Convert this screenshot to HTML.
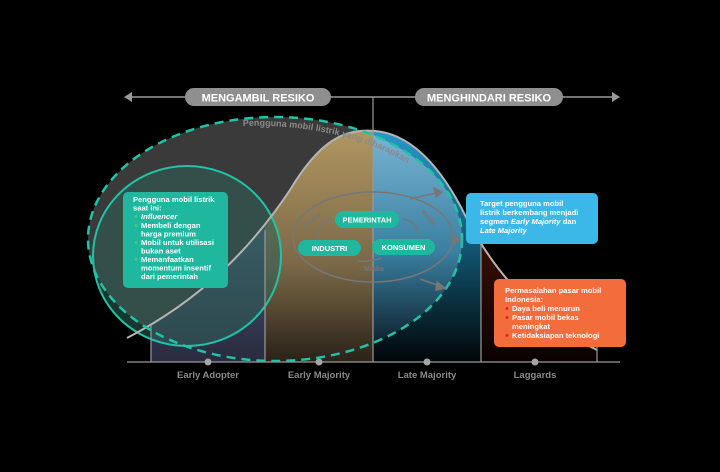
<!DOCTYPE html>
<html><head><meta charset="utf-8"><style>
html,body{margin:0;padding:0;background:#000;}
svg{display:block;font-family:"Liberation Sans",sans-serif;}
</style></head><body>
<svg width="720" height="472" viewBox="0 0 720 472" xmlns="http://www.w3.org/2000/svg">
<defs>
<linearGradient id="blue" x1="0" y1="0" x2="0" y2="1"><stop offset="0" stop-color="#7fb9d8"/><stop offset="0.55" stop-color="#3a7fa0"/><stop offset="1" stop-color="#061018"/></linearGradient>
<linearGradient id="blue2" x1="0" y1="0" x2="0" y2="1"><stop offset="0" stop-color="#2a9fcf"/><stop offset="0.5" stop-color="#135a78"/><stop offset="1" stop-color="#020608"/></linearGradient>
<linearGradient id="gold" x1="0" y1="0" x2="0" y2="1"><stop offset="0" stop-color="#b59a62"/><stop offset="0.6" stop-color="#7a6848"/><stop offset="1" stop-color="#2a2218"/></linearGradient>
<linearGradient id="ea" x1="0" y1="0" x2="0" y2="1"><stop offset="0" stop-color="#5a7e9a"/><stop offset="1" stop-color="#2a2a40"/></linearGradient>
<linearGradient id="red" x1="0" y1="0" x2="0" y2="1"><stop offset="0" stop-color="#d4461e"/><stop offset="0.5" stop-color="#3a0e02"/><stop offset="1" stop-color="#0a0200"/></linearGradient>
<clipPath id="under"><path d="M127,338 C200,300 250,250 290,190 C320,140 345,128 375,131 C410,134 440,165 465,215 C495,275 540,322 597,350 L597,362 L127,362 Z"/></clipPath>
<clipPath id="ell"><ellipse cx="275" cy="239" rx="187" ry="122"/></clipPath>
</defs>
<line x1="128" y1="97" x2="616" y2="97" stroke="#9a9a9a" stroke-width="1.5"/>
<path d="M124,97 L132,92 L132,102 Z" fill="#9a9a9a"/>
<path d="M620,97 L612,92 L612,102 Z" fill="#9a9a9a"/>
<rect x="185" y="88" width="146" height="18" rx="9" fill="#8f8f8f"/>
<text x="258" y="101.5" text-anchor="middle" fill="#fff" font-size="11" font-weight="bold">MENGAMBIL RESIKO</text>
<rect x="415" y="88" width="148" height="18" rx="9" fill="#8f8f8f"/>
<text x="489" y="101.5" text-anchor="middle" fill="#fff" font-size="11" font-weight="bold">MENGHINDARI RESIKO</text>
<ellipse cx="275" cy="239" rx="187" ry="122" fill="#3a3a3a"/>
<g clip-path="url(#under)">
<rect x="151" y="120" width="114" height="242" fill="url(#ea)"/>
<rect x="265" y="120" width="108" height="242" fill="url(#gold)"/>
<rect x="373" y="120" width="108" height="242" fill="url(#blue2)"/>
<g clip-path="url(#ell)"><rect x="373" y="120" width="108" height="242" fill="url(#blue)"/></g>
<rect x="481" y="120" width="116" height="242" fill="url(#red)"/>
</g>
<ellipse cx="187" cy="256" rx="94" ry="90" fill="#2f5e58" fill-opacity="0.55" stroke="#1fc4a6" stroke-width="2"/>
<path d="M127,338 C200,300 250,250 290,190 C320,140 345,128 375,131 C410,134 440,165 465,215 C495,275 540,322 597,350" fill="none" stroke="#b5b5b5" stroke-width="2"/>
<g stroke="#9a9a9a" stroke-width="1.2">
<line x1="373" y1="97" x2="373" y2="362"/>
<line x1="151" y1="325" x2="151" y2="362"/>
<line x1="265" y1="230" x2="265" y2="362"/>
<line x1="481" y1="245" x2="481" y2="362"/>
<line x1="597" y1="345" x2="597" y2="362"/>
<line x1="127" y1="362" x2="620" y2="362"/>
</g>
<g fill="#a5a5a5"><circle cx="208" cy="362" r="3.5"/><circle cx="319" cy="362" r="3.5"/><circle cx="427" cy="362" r="3.5"/><circle cx="535" cy="362" r="3.5"/></g>
<g fill="#8a8a8a" font-size="9.5" font-weight="bold" text-anchor="middle">
<text x="208" y="378">Early Adopter</text><text x="319" y="378">Early Majority</text><text x="427" y="378">Late Majority</text><text x="535" y="378">Laggards</text>
</g>
<ellipse cx="275" cy="239" rx="187" ry="122" fill="none" stroke="#1fc4a6" stroke-width="2.5" stroke-dasharray="9,6"/>
<path id="arcp" d="M243,126 C300,124 370,135 420,172" fill="none"/>
<text fill="#8a8a8a" font-size="9" font-weight="bold"><textPath href="#arcp">Pengguna mobil listrik yang diharapkan</textPath></text>
<ellipse cx="373" cy="237" rx="80" ry="45" fill="none" stroke="#777" stroke-width="1.5"/>
<g stroke="#777" stroke-width="1.5" fill="#777">
<line x1="410" y1="199" x2="436" y2="193"/><path d="M442,192 L434,188 L436,197 Z"/>
<line x1="450" y1="240" x2="456" y2="240"/><path d="M460,240 L453,236 L453,244 Z"/>
<line x1="420" y1="279" x2="440" y2="286"/><path d="M445,288 L437,282 L436,290 Z"/>
</g>
<g fill="none" stroke="#777" stroke-width="1.5">
<path d="M332,219 Q318,222 318,238"/><path d="M403,219 Q418,222 420,236"/><path d="M358,261 Q370,262 382,258"/>
</g>
<g font-size="7" font-weight="bold" fill="#777"><text x="306" y="228" transform="rotate(-40 306 228)">Media</text><text x="420" y="212" transform="rotate(45 420 212)">Media</text><text x="364" y="271">Media</text></g>
<g fill="#1fb89f">
<rect x="335" y="211" width="64" height="17" rx="8.5"/><rect x="298" y="240" width="63" height="16" rx="8"/><rect x="372" y="239" width="63" height="16" rx="8"/>
</g>
<g fill="#fff" font-size="7.5" font-weight="bold" text-anchor="middle">
<text x="367" y="222.5">PEMERINTAH</text><text x="329.5" y="251">INDUSTRI</text><text x="403.5" y="250">KONSUMEN</text>
</g>
<rect x="123" y="192" width="105" height="96" rx="5" fill="#1fb89f"/>
<g fill="#fff" font-size="7.6" font-weight="bold">
<text x="133" y="202">Pengguna mobil listrik</text><text x="133" y="210.5">saat ini:</text>
<text x="141" y="219" font-style="italic">Influencer</text>
<text x="141" y="228">Membeli dengan</text><text x="141" y="236.5">harga premium</text>
<text x="141" y="245">Mobil untuk utilisasi</text><text x="141" y="253.5">bukan aset</text>
<text x="141" y="262">Memanfaatkan</text><text x="141" y="270.5">momentum insentif</text><text x="141" y="279">dari pemerintah</text>
</g>
<g fill="#3ecf7a"><circle cx="136" cy="216.5" r="1.5"/><circle cx="136" cy="225.5" r="1.5"/><circle cx="136" cy="242.5" r="1.5"/><circle cx="136" cy="259.5" r="1.5"/></g>
<rect x="466" y="193" width="132" height="51" rx="5" fill="#3cb8e8"/>
<g fill="#fff" font-size="7.6" font-weight="bold">
<text x="480" y="206">Target pengguna mobil</text><text x="480" y="215">listrik berkembang menjadi</text>
<text x="480" y="224">segmen <tspan font-style="italic">Early Majority</tspan> dan</text><text x="480" y="233" font-style="italic">Late Majority</text>
</g>
<rect x="494" y="279" width="132" height="68" rx="5" fill="#f26c3c"/>
<g fill="#fff" font-size="7.6" font-weight="bold">
<text x="505" y="293">Permasalahan pasar mobil</text><text x="505" y="302">Indonesia:</text>
<text x="512" y="311">Daya beli menurun</text><text x="512" y="320">Pasar mobil bekas</text><text x="512" y="329">meningkat</text>
<text x="512" y="338">Ketidaksiapan teknologi</text>
</g>
<g fill="#e0222a"><circle cx="507" cy="308.5" r="1.5"/><circle cx="507" cy="317.5" r="1.5"/><circle cx="507" cy="335.5" r="1.5"/></g>
</svg>
</body></html>
